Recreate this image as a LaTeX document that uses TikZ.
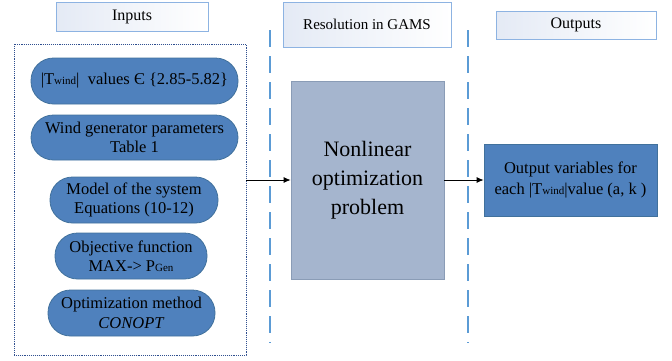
\documentclass[tikz,border=0pt]{standalone}
\usepackage{fontspec}
\setmainfont{Liberation Serif}
\usetikzlibrary{arrows.meta}
\definecolor{pillblue}{HTML}{4F81BD}
\definecolor{pillborder}{HTML}{41719C}
\definecolor{nlfill}{HTML}{A5B5CE}
\definecolor{nlborder}{HTML}{8A9CB6}
\definecolor{hdrborder}{HTML}{8DB3E2}
\definecolor{hdrfill}{HTML}{E4EAF5}
\definecolor{dashblue}{HTML}{5B9BD5}
\definecolor{dotblue}{HTML}{2F4F8F}
\newcommand{\lowsub}[1]{{\fontsize{11}{11}\selectfont #1}}
\tikzset{
  pill/.style={draw=pillborder, line width=0.8pt, fill=pillblue, rounded corners=22.5pt,
    align=center, inner sep=0pt, font=\fontsize{16.5}{19.5}\selectfont},
  header/.style={draw=hdrborder, line width=1pt, left color=hdrfill, right color=white,
    align=center, inner sep=0pt},
  sepline/.style={draw=dashblue, line width=2pt, dash pattern=on 17pt off 9pt},
  conn/.style={draw=black, line width=0.8pt, -{Latex[length=7pt,width=6pt]}}
}
\begin{document}
\begin{tikzpicture}[x=1pt,y=-1pt]
\useasboundingbox (0,0) rectangle (672,360);
% headers
\node[header, minimum width=152pt, minimum height=29pt, font=\fontsize{16}{19}\selectfont] (hin) at (132,16.5) {Inputs};
\node[header, minimum width=168pt, minimum height=45pt, font=\fontsize{15}{18}\selectfont] (hres) at (367,24.5) {Resolution in GAMS};
\node[header, minimum width=160pt, minimum height=28pt, font=\fontsize{16}{19}\selectfont] (hout) at (576,25) {Outputs};
% separators
\coordinate (s1t) at (270,30);
\coordinate (s1b) at (270,343);
\coordinate (s2t) at (468,30);
\coordinate (s2b) at (468,343);
\draw[sepline] (s1t) -- (s1b);
\draw[sepline] (s2t) -- (s2b);
% inputs container
\node[draw=dotblue, line width=0.9pt, densely dotted, minimum width=232pt, minimum height=311pt, inner sep=0pt] (inbox) at (130,199.5) {};
% pills
\node[pill, minimum width=207pt, minimum height=46pt] (p1) at (134.5,81) {|T\lowsub{wind}|\ \ values Є \{2.85-5.82\}};
\node[pill, minimum width=207pt, minimum height=45pt] (p2) at (134.5,137.5) {Wind generator parameters\\Table 1};
\node[pill, minimum width=168pt, minimum height=46pt] (p3) at (134,200) {Model of the system\\Equations (10-12)};
\node[pill, minimum width=152pt, minimum height=46pt] (p4) at (131,256) {Objective function\\MAX-> P\lowsub{Gen}};
\node[pill, minimum width=167pt, minimum height=46pt] (p5) at (131.5,313) {Optimization method\\\textit{CONOPT}};
% central box
\node[draw=nlborder, line width=0.8pt, fill=nlfill, minimum width=153pt, minimum height=198pt, align=center, inner sep=0pt, font=\fontsize{22}{29}\selectfont] (nl) at (367.5,180) {Nonlinear\\optimization\\problem};
% output box
\node[draw=pillborder, line width=0.8pt, fill=pillblue, minimum width=173pt, minimum height=72pt, align=center, inner sep=0pt, font=\fontsize{16.5}{21}\selectfont] (out) at (570.5,180) {Output variables for\\each |T\lowsub{wind}|value (a, k )};
% connectors
\draw[conn] (inbox.east |- nl.west) -- (nl.west);
\draw[conn] (nl.east) -- (out.west);
\end{tikzpicture}
\end{document}
